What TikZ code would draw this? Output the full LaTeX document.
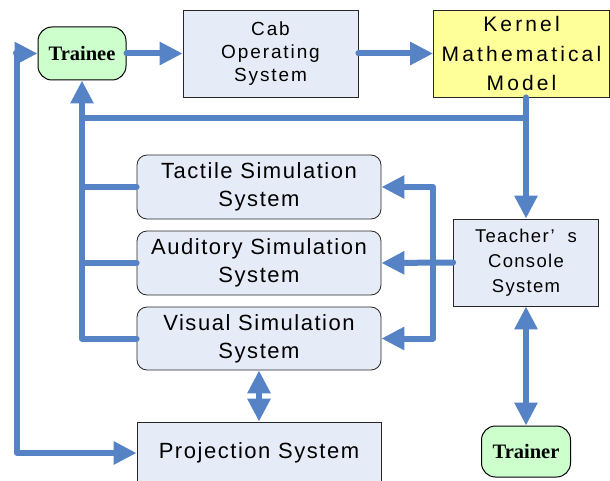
\documentclass[tikz,border=0pt]{standalone}
\usepackage{fontspec}
\setmainfont{Liberation Sans}
\newfontfamily\boxfont[LetterSpace=7]{Liberation Sans}
\newfontfamily\cabfont[LetterSpace=10]{Liberation Sans}
\newfontfamily\kernfont[LetterSpace=15]{Liberation Sans}
\newfontfamily\rolefont{Liberation Serif}
\usetikzlibrary{arrows.meta}

\definecolor{flow}{RGB}{86,131,198}
\definecolor{boxfill}{RGB}{230,236,247}
\definecolor{rolefill}{RGB}{204,255,204}
\definecolor{kernfill}{RGB}{255,255,153}

\begin{document}
\begin{tikzpicture}[x=1pt,y=-1pt,
  box/.style={draw=black!85, line width=0.8pt, fill=boxfill, align=center, inner sep=0pt, text=black},
  simbox/.style={box, rounded corners=10pt, minimum width=244pt, minimum height=64pt,
    font=\boxfont\fontsize{22}{28}\selectfont},
  role/.style={draw=black, line width=1pt, fill=rolefill, rounded corners=14pt,
    font=\rolefont\bfseries\fontsize{20.5}{22}\selectfont, inner sep=0pt},
  flowline/.style={draw=flow, line width=6pt, line cap=round, line join=round},
  arr/.style={flowline, -{Triangle[length=23pt,width=22pt]}},
  twoway/.style={flowline, {Triangle[length=23pt,width=22pt]}-{Triangle[length=23pt,width=22pt]}},
]
\useasboundingbox (0,0) rectangle (610,481);
\clip (0,0) rectangle (610,481);

% blocks
\node[role, minimum width=88pt, minimum height=53pt] (trainee) at (82,53.5) {Trainee};
\node[box, minimum width=175pt, minimum height=87pt, font=\cabfont\fontsize{19}{23}\selectfont]
  (cab) at (270.5,53.5) {Cab\\Operating\\System};
\node[box, fill=kernfill, minimum width=176pt, minimum height=87pt, font=\kernfont\fontsize{21}{29.5}\selectfont]
  (kernel) at (521.5,53.5) {Kernel\\Mathematical\\Model};
\node[simbox] (tactile) at (259,187) {Tactile Simulation\\System};
\node[simbox] (auditory) at (259,263) {Auditory Simulation\\System};
\node[simbox, minimum height=63pt] (visual) at (259,338.5) {Visual Simulation\\System};
\node[box, minimum width=145pt, minimum height=87pt, font=\boxfont\fontsize{18.5}{25}\selectfont]
  (teacher) at (526,262.5) {Teacher’\ \ s\\Console\\System};
\node[role, minimum width=89pt, minimum height=51pt] (trainer) at (526,451.5) {Trainer};
\node[box, minimum width=244pt, minimum height=62pt, font=\boxfont\fontsize{22}{28}\selectfont]
  (proj) at (259,453) {Projection System};

% junction points of the buses
\coordinate (kbus) at (526,118);
\coordinate (rbus) at (433,263);
\coordinate (lbus) at (17,53.5);

% main chain
\draw[arr] (trainee.east) -- (cab.west);
\draw[arr] (cab.east) -- (kernel.west);
\draw[arr] (teacher.north |- kernel.south) -- (teacher.north);

% feedback bus to the trainee
\draw[flowline] (kbus) -- (trainee.south |- kbus);
\draw[flowline] (tactile.west) -- (trainee.south |- tactile.west);
\draw[flowline] (auditory.west) -- (trainee.south |- auditory.west);
\draw[arr] (visual.west) -- (trainee.south |- visual.west) -- (trainee.south);

% teacher's console to the simulation systems
\draw[arr] (teacher.west) -- (auditory.east);
\draw[arr] (rbus) |- (tactile.east);
\draw[arr] (rbus) |- (visual.east);

% two-way links
\draw[twoway] (teacher.south) -- (trainer.north);
\draw[twoway] (visual.south) -- (proj.north);

% outer loop from the trainee to the projection system
\draw[arr] (lbus) -- (trainee.west);
\draw[arr] (lbus) |- (proj.west);
\end{tikzpicture}
\end{document}
